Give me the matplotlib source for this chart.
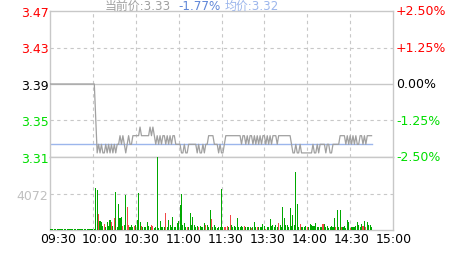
import numpy as np
import matplotlib
matplotlib.use("Agg")
import matplotlib.pyplot as plt
import matplotlib.transforms as mtransforms

# ---------------------------------------------------------------
# Data (one value per minute)
# ---------------------------------------------------------------

prev_close = 3.39
last_price = 3.33
avg_price = 3.32
change_pct = -1.77

time_labels = ["09:30", "10:00", "10:30", "11:00", "11:30",
               "13:30", "14:00", "14:30", "15:00"]
pct_labels = ["+2.50%", "+1.25%", "0.00%", "-1.25%", "-2.50%"]

price = [
    3.39, 3.39, 3.39, 3.39, 3.39, 3.39, 3.39, 3.39, 3.39, 3.39, 3.39, 3.39, 3.39, 3.39, 3.39, 3.39,
    3.39, 3.39, 3.39, 3.39, 3.39, 3.39, 3.39, 3.39, 3.39, 3.39, 3.39, 3.39, 3.39, 3.39, 3.39, 3.39,
    3.35, 3.31, 3.32, 3.31, 3.32, 3.31, 3.31, 3.32, 3.31, 3.32, 3.31, 3.32, 3.31, 3.32, 3.31, 3.32,
    3.32, 3.33, 3.32, 3.33, 3.32, 3.31, 3.32, 3.33, 3.32, 3.32, 3.33, 3.33, 3.33, 3.33, 3.33, 3.34,
    3.33, 3.33, 3.33, 3.33, 3.33, 3.33, 3.34, 3.33, 3.34, 3.33, 3.32, 3.33, 3.32, 3.33, 3.32, 3.33,
    3.33, 3.32, 3.33, 3.32, 3.33, 3.32, 3.33, 3.33, 3.32, 3.32, 3.32, 3.32, 3.31, 3.31, 3.32, 3.31,
    3.31, 3.32, 3.32, 3.32, 3.32, 3.32, 3.32, 3.31, 3.32, 3.31, 3.31, 3.32, 3.31, 3.32, 3.32, 3.33,
    3.33, 3.33, 3.33, 3.32, 3.32, 3.32, 3.31, 3.32, 3.31, 3.31, 3.32, 3.33, 3.33, 3.33, 3.33, 3.33,
    3.33, 3.33, 3.33, 3.33, 3.33, 3.33, 3.32, 3.33, 3.33, 3.32, 3.33, 3.32, 3.33, 3.33, 3.32, 3.33,
    3.32, 3.33, 3.32, 3.33, 3.32, 3.33, 3.33, 3.32, 3.33, 3.32, 3.33, 3.32, 3.33, 3.33, 3.33, 3.32,
    3.33, 3.33, 3.33, 3.33, 3.33, 3.33, 3.33, 3.33, 3.33, 3.32, 3.31, 3.31, 3.32, 3.31, 3.31, 3.32,
    3.31, 3.31, 3.31, 3.31, 3.31, 3.31, 3.31, 3.31, 3.32, 3.31, 3.31, 3.32, 3.31, 3.32, 3.32, 3.32,
    3.32, 3.31, 3.32, 3.32, 3.31, 3.31, 3.32, 3.32, 3.32, 3.32, 3.32, 3.33, 3.33, 3.33, 3.33, 3.32,
    3.33, 3.32, 3.33, 3.32, 3.33, 3.32, 3.33, 3.32, 3.32, 3.33, 3.33, 3.32, 3.33, 3.32, 3.33, 3.33,
    3.33, 3.33,
]

volume = [
    0, 0, 0, 0, 0, 0, 0, 0, 0, 0, 0, 0, 0, 0, 0, 0,
    0, 0, 0, 0, 0, 0, 0, 0, 0, 0, 0, 0, 0, 0, 0, 0,
    4700, 4460, 1800, 1000, 850, 500, 650, 370, 850, 400, 1120, 850, 450, 1340, 4240, 300,
    2900, 1340, 1450, 480, 600, 3900, 2570, 600, 370, 560, 300, 480, 560, 1120, 4130, 850,
    480, 370, 370, 300, 850, 410, 300, 600, 480, 250, 370, 8144, 220, 1040, 300, 370,
    300, 1900, 370, 1120, 560, 300, 1450, 370, 300, 740, 970, 2790, 4020, 600, 740, 300,
    300, 300, 1900, 600, 1450, 560, 300, 480, 370, 480, 300, 370, 780, 600, 600, 300,
    2230, 1230, 300, 600, 300, 220, 300, 370, 4580, 300, 300, 370, 480, 300, 1670, 560,
    300, 480, 300, 1340, 370, 300, 480, 300, 410, 300, 300, 370, 300, 220, 300, 850,
    300, 300, 370, 300, 300, 670, 480, 150, 300, 300, 1230, 480, 560, 300, 600, 300,
    780, 560, 300, 2570, 1300, 560, 600, 300, 2450, 450, 1670, 560, 6470, 2900, 300, 670,
    300, 300, 300, 480, 370, 300, 670, 560, 480, 480, 780, 300, 300, 300, 300, 670,
    670, 300, 480, 220, 300, 480, 370, 1340, 370, 2230, 300, 2230, 300, 300, 480, 220,
    1120, 850, 220, 300, 300, 370, 480, 850, 600, 370, 670, 480, 1040, 300, 850, 600,
    560, 300,
]

# minutes whose volume bar is drawn red (up tick)
red_minutes = [34, 38, 43, 45, 51, 54, 55, 59, 64, 71, 72, 81, 96, 104, 109, 113,
               122, 123, 124, 126, 136, 141, 145, 151, 160, 175, 180, 191, 200,
               204, 210, 219, 221]

TOTAL_MINUTES = 240
VOL_MAX = 8144

RED = "#ff0000"
GREEN = "#00dd00"
GRID = "#c8c8c8"

# ---------------------------------------------------------------
# Figure layout
# ---------------------------------------------------------------

W, H = 463, 255
fig = plt.figure(figsize=(W / 100, H / 100), dpi=100)
fig.patch.set_facecolor("white")

left, right = 50 / W, 393 / W
ax = fig.add_axes([left, 1 - 158 / H, right - left, 146 / H])
axv = fig.add_axes([left, 1 - 231 / H, right - left, 73 / H])

lo, hi = prev_close * 0.975, prev_close * 1.025
pct_steps = np.array([0.025, 0.0125, 0.0, -0.0125, -0.025])
levels = prev_close * (1 + pct_steps)

x_price = np.arange(len(price))
x_vol = np.arange(len(volume))
grid_x = np.arange(0, TOTAL_MINUTES + 1, 30)

# ---- price panel
ax.set_xlim(0, TOTAL_MINUTES)
ax.set_ylim(lo, hi)
for lv in levels[1:-1]:
    if lv == prev_close:
        ax.axhline(lv, color=GRID, lw=1.0, zorder=1)
    else:
        ax.axhline(lv, color=GRID, lw=0.8, ls=(0, (3, 3)), zorder=1)
for gx in grid_x[1:-1]:
    ax.axvline(gx, color=GRID, lw=0.8, ls=(0, (3, 3)), zorder=1)

ax.plot(x_price, price, color="#a0a0a0", lw=0.9, zorder=3)
ax.plot([0, len(price) - 1], [avg_price, avg_price], color="#9cb6ec", lw=1.0, zorder=2)

ax.set_yticks(levels)
ax.set_yticklabels([f"{v:.2f}" for v in levels])
ax.set_xticks([])
ax.tick_params(axis="y", length=0, pad=1, labelsize=9)
label_colors = [RED, RED, "black", GREEN, GREEN]
for lab, c in zip(ax.get_yticklabels(), label_colors):
    lab.set_color(c)

trans = mtransforms.blended_transform_factory(ax.transAxes, ax.transData)
for lv, txt, c in zip(levels, pct_labels, label_colors):
    ax.text(1 + 3 / 343, lv, txt, transform=trans, color=c, fontsize=9,
            ha="left", va="center")

for side in ["left", "right", "top", "bottom"]:
    ax.spines[side].set_color(GRID)
    ax.spines[side].set_linewidth(1.0)

# ---- volume panel
axv.set_xlim(0, TOTAL_MINUTES)
axv.set_ylim(0, VOL_MAX)
axv.axhline(VOL_MAX / 2, color=GRID, lw=0.8, ls=(0, (3, 3)), zorder=1)
for gx in grid_x[1:-1]:
    axv.axvline(gx, color=GRID, lw=0.8, ls=(0, (3, 3)), zorder=1)

bar_colors = ["#f04848" if i in red_minutes else "#00a800" for i in x_vol]
axv.bar(x_vol, np.maximum(volume, 90), width=0.75, color=bar_colors,
        linewidth=0, align="center", antialiased=False, zorder=3)

axv.set_yticks([VOL_MAX / 2])
axv.set_yticklabels([str(VOL_MAX // 2)])
axv.tick_params(axis="y", length=0, pad=1, labelsize=9, labelcolor="#c0c0c0")
axv.set_xticks([])
for side in ["left", "right", "top", "bottom"]:
    axv.spines[side].set_color(GRID)
    axv.spines[side].set_linewidth(1.0)

# time labels, spaced slightly narrower than the grid like the original
for k, lab in enumerate(time_labels):
    px = 57.8 + k * 41.96
    fig.text(px / W, 1 - 239.5 / H, lab, fontsize=9, color="black",
             ha="center", va="center")

# ---- header line
cjk = ["DejaVu Sans", "Noto Sans CJK SC"]
fig.text(105 / W, 1 - 10 / H, f"当前价:{last_price:.2f}", color="#a0a0a0",
         fontsize=8.6, family=cjk, ha="left", va="baseline")
fig.text(178 / W, 1 - 10 / H, f"{change_pct:.2f}%", color="#5f86d8",
         fontsize=8.6, family=cjk, ha="left", va="baseline")
fig.text(225 / W, 1 - 10 / H, f"均价:{avg_price:.2f}", color="#9cb6ec",
         fontsize=8.6, family=cjk, ha="left", va="baseline")

fig.savefig("out.png", dpi=100)
plt.close(fig)
